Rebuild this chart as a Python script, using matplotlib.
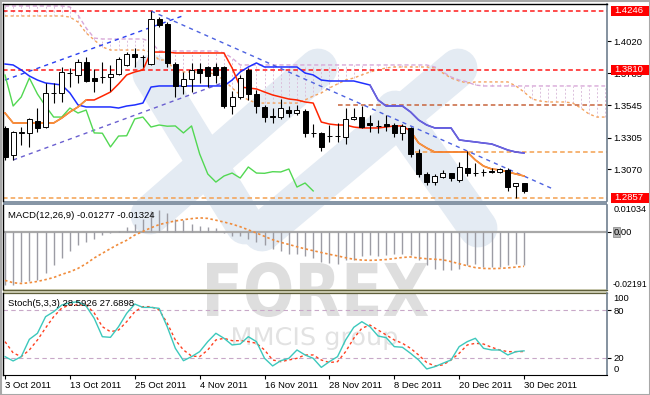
import matplotlib
matplotlib.use('Agg')
import matplotlib.pyplot as plt
import numpy as np
from matplotlib.patches import Rectangle, PathPatch
from matplotlib.textpath import TextPath
from matplotlib.font_manager import FontProperties
from matplotlib.transforms import Affine2D, blended_transform_factory

plt.rcParams['font.family'] = ['Liberation Sans', 'DejaVu Sans']

# ---- daily EURUSD candles, 3 Oct 2011 .. 30 Dec 2011 ----
opens = [1.3377, 1.3176, 1.3340, 1.3340, 1.3429, 1.3384, 1.3637, 1.3637, 1.3785, 1.3770,
         1.3867, 1.3748, 1.3756, 1.3756, 1.3778, 1.3845, 1.3927, 1.3904, 1.3852, 1.4187,
         1.4149, 1.3852, 1.3689, 1.3741, 1.3815, 1.3830, 1.3830, 1.3830, 1.3540, 1.3607,
         1.3808, 1.3629, 1.3533, 1.3466, 1.3458, 1.3510, 1.3488, 1.3503, 1.3340, 1.3340,
         1.3320, 1.3317, 1.3310, 1.3444, 1.3458, 1.3414, 1.3392, 1.3406, 1.3399, 1.3340,
         1.3377, 1.3191, 1.3035, 1.2975, 1.3013, 1.3042, 1.2990, 1.3079, 1.3042, 1.3050,
         1.3057, 1.3050, 1.3065, 1.2946, 1.2968]
highs = [1.3392, 1.3354, 1.3384, 1.3451, 1.3525, 1.3711, 1.3711, 1.3830, 1.3823, 1.3889,
         1.3904, 1.3815, 1.3867, 1.3845, 1.3904, 1.3941, 1.3971, 1.3919, 1.4246, 1.4201,
         1.4164, 1.3867, 1.3793, 1.3860, 1.3860, 1.3837, 1.3860, 1.3837, 1.3652, 1.3770,
         1.3823, 1.3659, 1.3548, 1.3525, 1.3592, 1.3540, 1.3548, 1.3518, 1.3406, 1.3347,
         1.3399, 1.3414, 1.3525, 1.3525, 1.3540, 1.3473, 1.3436, 1.3473, 1.3414, 1.3406,
         1.3384, 1.3221, 1.3050, 1.3035, 1.3065, 1.3042, 1.3124, 1.3206, 1.3117, 1.3072,
         1.3079, 1.3079, 1.3079, 1.2968, 1.2968]
lows = [1.3139, 1.3139, 1.3250, 1.3236, 1.3347, 1.3377, 1.3562, 1.3570, 1.3681, 1.3711,
        1.3718, 1.3644, 1.3711, 1.3652, 1.3770, 1.3837, 1.3830, 1.3830, 1.3845, 1.4127,
        1.3830, 1.3607, 1.3629, 1.3644, 1.3711, 1.3681, 1.3711, 1.3525, 1.3481, 1.3592,
        1.3585, 1.3488, 1.3421, 1.3414, 1.3444, 1.3458, 1.3473, 1.3310, 1.3310, 1.3206,
        1.3273, 1.3273, 1.3258, 1.3436, 1.3377, 1.3347, 1.3340, 1.3354, 1.3310, 1.3288,
        1.3161, 1.3013, 1.2953, 1.2953, 1.3005, 1.2983, 1.2975, 1.3020, 1.3020, 1.3020,
        1.3042, 1.3042, 1.2909, 1.2857, 1.2894]
closes = [1.3161, 1.3347, 1.3347, 1.3444, 1.3377, 1.3637, 1.3640, 1.3793, 1.3788, 1.3867,
          1.3726, 1.3726, 1.3753, 1.3778, 1.3889, 1.3927, 1.3904, 1.3906, 1.4187, 1.4142,
          1.3860, 1.3689, 1.3741, 1.3808, 1.3785, 1.3763, 1.3770, 1.3540, 1.3607, 1.3748,
          1.3629, 1.3540, 1.3458, 1.3458, 1.3525, 1.3488, 1.3510, 1.3340, 1.3338, 1.3236,
          1.3317, 1.3319, 1.3444, 1.3458, 1.3384, 1.3399, 1.3390, 1.3392, 1.3340, 1.3392,
          1.3184, 1.3035, 1.2975, 1.3020, 1.3042, 1.3005, 1.3087, 1.3042, 1.3040, 1.3052,
          1.3050, 1.3072, 1.2938, 1.2968, 1.2909]

# Ichimoku lines
tenkan = [1.3488, 1.3414, 1.3414, 1.3414, 1.3414, 1.3414, 1.3414, 1.3451, 1.3496, 1.3533,
          1.3585, 1.3585, 1.3614, 1.3644, 1.3704, 1.3771, 1.3793, 1.3808, 1.3941, 1.3941,
          1.3941, 1.3934, 1.3934, 1.3934, 1.3934, 1.3934, 1.3934, 1.3934, 1.3823, 1.3681,
          1.3674, 1.3667, 1.3644, 1.3622, 1.3607, 1.3592, 1.3585, 1.3570, 1.3562, 1.3421,
          1.3406, 1.3399, 1.3399, 1.3384, 1.3377, 1.3377, 1.3377, 1.3384, 1.3392, 1.3392,
          1.3354, 1.3265, 1.3228, 1.3198, 1.3198, 1.3198, 1.3198, 1.3198, 1.3139, 1.3094,
          1.3072, 1.3065, 1.3050, 1.3035, 1.3020]
kijun = [1.3852, 1.3845, 1.3808, 1.3763, 1.3733, 1.3711, 1.3704, 1.3696, 1.3637, 1.3548,
         1.3533, 1.3533, 1.3533, 1.3533, 1.3525, 1.3540, 1.3548, 1.3562, 1.3681, 1.3689,
         1.3689, 1.3689, 1.3689, 1.3689, 1.3689, 1.3689, 1.3689, 1.3689, 1.3733, 1.3793,
         1.3830, 1.3860, 1.3830, 1.3830, 1.3830, 1.3830, 1.3830, 1.3785, 1.3771, 1.3733,
         1.3726, 1.3726, 1.3726, 1.3726, 1.3711, 1.3696, 1.3585, 1.3540, 1.3540, 1.3540,
         1.3496, 1.3436, 1.3399, 1.3377, 1.3377, 1.3377, 1.3288, 1.3280, 1.3273, 1.3265,
         1.3258, 1.3236, 1.3213, 1.3198, 1.3191]
span_a = [1.4209, 1.4209, 1.4209, 1.4209, 1.4209, 1.4209, 1.4209, 1.4209, 1.4201, 1.4164,
          1.4083, 1.4031, 1.3979, 1.3956, 1.3956, 1.3956, 1.3956, 1.3956, 1.3941, 1.3882,
          1.3882, 1.3793, 1.3793, 1.3793, 1.3793, 1.3793, 1.3771, 1.3733, 1.3674, 1.3622,
          1.3585, 1.3562, 1.3562, 1.3562, 1.3562, 1.3562, 1.3562, 1.3585, 1.3614, 1.3637,
          1.3674, 1.3704, 1.3733, 1.3748, 1.3771, 1.3793, 1.3808, 1.3823, 1.3830, 1.3830,
          1.3830, 1.3830, 1.3830, 1.3823, 1.3785, 1.3748, 1.3726, 1.3711, 1.3719, 1.3719,
          1.3719, 1.3719, 1.3719, 1.3689, 1.3644, 1.3592, 1.3577, 1.3570, 1.3570, 1.3570,
          1.3562, 1.3525, 1.3481, 1.3458, 1.3458]
span_b = [1.4283, 1.4283, 1.4283, 1.4283, 1.4283, 1.4283, 1.4283, 1.4283, 1.4276, 1.4216,
          1.4120, 1.4045, 1.4038, 1.4038, 1.4038, 1.4038, 1.4038, 1.4038, 1.4016, 1.3949,
          1.3949, 1.3949, 1.3949, 1.3949, 1.3949, 1.3949, 1.3949, 1.3934, 1.3897, 1.3845,
          1.3845, 1.3845, 1.3845, 1.3845, 1.3845, 1.3845, 1.3845, 1.3845, 1.3845, 1.3845,
          1.3845, 1.3845, 1.3845, 1.3845, 1.3845, 1.3845, 1.3845, 1.3845, 1.3845, 1.3845,
          1.3845, 1.3845, 1.3845, 1.3830, 1.3793, 1.3756, 1.3733, 1.3719, 1.3696, 1.3689,
          1.3689, 1.3689, 1.3689, 1.3689, 1.3689, 1.3689, 1.3689, 1.3689, 1.3689, 1.3689,
          1.3689, 1.3689, 1.3689, 1.3689, 1.3689]

# MACD(12,26,9): main as histogram, signal dotted
macd = [-0.0202, -0.0202, -0.0192, -0.0189, -0.0186, -0.0156, -0.0128, -0.0102, -0.0074, -0.0051,
        -0.0038, -0.0026, -0.0013, -0.0006, 0.0004, 0.0019, 0.0032, 0.0051, 0.0079, 0.0083,
        0.0074, 0.0051, 0.0045, 0.0032, 0.0023, 0.0019, 0.0017, -0.0003, -0.0015, -0.0015,
        -0.0026, -0.0038, -0.0051, -0.0067, -0.0073, -0.0083, -0.0083, -0.0092, -0.0102, -0.0115,
        -0.0118, -0.0122, -0.0109, -0.0109, -0.0092, -0.0090, -0.0092, -0.0090, -0.0083, -0.0083,
        -0.0090, -0.0109, -0.0128, -0.0141, -0.0147, -0.0147, -0.0141, -0.0128, -0.0125, -0.0134,
        -0.0134, -0.0134, -0.0128, -0.0125, -0.0128]
signal = [-0.0186, -0.0195, -0.0198, -0.0195, -0.0190, -0.0183, -0.0175, -0.0163, -0.0153, -0.0140,
          -0.0122, -0.0100, -0.0082, -0.0064, -0.0047, -0.0032, -0.0012, 0.0002, 0.0016, 0.0028,
          0.0036, 0.0042, 0.0047, 0.0051, 0.0054, 0.0052, 0.0045, 0.0038, 0.0030, 0.0020,
          0.0008, -0.0004, -0.0017, -0.0030, -0.0040, -0.0048, -0.0057, -0.0065, -0.0072, -0.0079,
          -0.0086, -0.0092, -0.0099, -0.0105, -0.0108, -0.0109, -0.0108, -0.0106, -0.0102, -0.0098,
          -0.0096, -0.0100, -0.0103, -0.0105, -0.0107, -0.0114, -0.0122, -0.0130, -0.0137, -0.0140,
          -0.0141, -0.0140, -0.0138, -0.0135, -0.0132]

# Stochastic(5,3,3)
stoch_k = [21.3, 15.9, 21.3, 43.1, 50.7, 71.6, 77.9, 86.3, 89.2, 90.4,
           85.0, 69.5, 46.4, 45.6, 59.0, 75.8, 87.5, 83.3, 83.3, 82.1,
           59.0, 31.8, 16.2, 21.3, 27.6, 40.2, 50.7, 44.4, 36.0, 37.2,
           46.4, 40.2, 19.2, 9.6, 16.2, 19.2, 29.7, 23.4, 19.2, 7.8,
           15.0, 21.3, 42.3, 58.2, 65.3, 59.0, 47.3, 45.2, 33.9, 33.1,
           25.5, 17.1, 5.8, 8.7, 13.0, 17.1, 33.9, 40.2, 44.4, 31.8,
           29.7, 29.7, 23.4, 27.6, 28.6]
stoch_d = [40.2, 26.0, 21.3, 29.7, 42.3, 57.4, 71.6, 82.5, 86.3, 86.3,
           86.3, 76.2, 59.0, 52.7, 54.8, 65.3, 77.9, 84.2, 84.2, 80.0,
           63.6, 42.3, 29.7, 22.1, 21.3, 29.7, 42.3, 44.4, 41.4, 41.4,
           40.2, 38.1, 29.7, 17.1, 15.0, 17.1, 19.2, 23.4, 23.4, 17.1,
           13.9, 15.0, 27.6, 44.4, 57.0, 61.1, 54.8, 48.6, 42.3, 38.1,
           31.8, 23.4, 13.9, 9.6, 10.9, 17.1, 25.5, 36.0, 38.1, 37.2,
           33.1, 29.7, 27.6, 27.6, 27.7]

date_labels = ['3 Oct 2011', '13 Oct 2011', '25 Oct 2011', '4 Nov 2011', '16 Nov 2011',
               '28 Nov 2011', '8 Dec 2011', '20 Dec 2011', '30 Dec 2011']
date_bars = [0, 8, 16, 24, 32, 40, 48, 56, 64]

price_ticks = [1.4020, 1.3785, 1.3545, 1.3305, 1.3070]
boxed_prices = [1.4246, 1.3810, 1.2857]
levels = [1.4246, 1.3810, 1.3545, 1.3198, 1.2857]
level_start = [None, None, 41, 50.5, None]
level_colors = ['#ff1a1a', '#ff1a1a', '#c8643c', '#f4a050', '#f4a050']

# trend lines: (bar, price) end points
trend_x = [(0, 22.2), (18, 67.6), (1, 27.1)]
trend_y = [(1.3733, 1.4216), (1.4246, 1.2923), (1.3139, 1.3718)]
trend_colors = ['#2a3ff0', '#4d62e0', '#6a5fd0']

W, H = 650, 395
fig = plt.figure(figsize=(6.5, 3.95), dpi=100)
fig.patch.set_facecolor('white')


def rect(x0, y0, x1, y1):
    return [x0 / W, 1 - y1 / H, (x1 - x0) / W, (y1 - y0) / H]


# background layer in pixel units (watermark, separators)
bg = fig.add_axes([0, 0, 1, 1])
bg.set_zorder(-1)
bg.set_xlim(0, W)
bg.set_ylim(H, 0)
bg.axis('off')

wm_blue = '#e4ebf3'
for (xa, ya), (xb, yb) in [((150, 215), (318, 68)), ((262, 232), (458, 68)),
                           ((152, 74), (245, 225)), ((395, 110), (478, 228))]:
    bg.plot([xa, xb], [ya, yb], color=wm_blue, lw=28, solid_capstyle='round', zorder=1)


def wordmark(text, box, weight, color):
    tp = TextPath((0, 0), text, size=100, prop=FontProperties(family='DejaVu Sans', weight=weight))
    ext = tp.get_extents()
    x0, y0, x1, y1 = box
    tr = (Affine2D().translate(-ext.x0, -ext.y0)
          .scale((x1 - x0) / ext.width, -(y1 - y0) / ext.height).translate(x0, y1))
    bg.add_patch(PathPatch(tr.transform_path(tp), facecolor=color, edgecolor='none', zorder=2))


wordmark('FOREX', (207, 262, 428, 317), 'bold', '#dedede')
wordmark('MMCIS group', (233, 327, 397, 350), 'normal', '#e2e2e2')

bg.add_patch(Rectangle((3, 201), 604, 4, facecolor='#8796a6', edgecolor='none', zorder=3))
bg.add_patch(Rectangle((3, 289), 604, 4, facecolor='#d4d4bc', edgecolor='none', zorder=3))
bg.plot([3, 607], [289.5, 289.5], color='#5f5f3a', lw=0.9, zorder=4)
bg.plot([3, 607], [292.5, 292.5], color='#5f5f3a', lw=0.9, zorder=4)
bg.add_patch(Rectangle((0.5, 0.5), W - 1, H - 1, fill=False, edgecolor='#a8a8a8', lw=1.5, zorder=5))

x = np.arange(len(closes))
xc = np.arange(len(span_a))
XL = (-0.25, 74.23)

# ---------------- main price panel ----------------
ax = fig.add_axes(rect(3, 4, 607, 201))
ax.set_facecolor('none')
ax.set_xlim(*XL)
ax.set_ylim(1.28343, 1.42980)

sa, sb = np.array(span_a), np.array(span_b)
ax.vlines(xc, np.minimum(sa, sb), np.maximum(sa, sb), colors='#dcc0dc', linestyles=(0, (2, 2)), lw=0.7, zorder=1)
ax.plot(xc, span_a, color='#f4a460', ls=(0, (2, 2)), lw=1.0, zorder=2)
ax.plot(xc, span_b, color='#d8a8d8', ls=(0, (3, 2)), lw=1.0, zorder=2)

for lv, st, col in zip(levels, level_start, level_colors):
    ax.hlines(lv, XL[0] if st is None else st, XL[1], colors=col, linestyles=(0, (3, 2)), lw=1.1, zorder=2)

for tx, ty, col in zip(trend_x, trend_y, trend_colors):
    ax.plot(tx, ty, color=col, ls=(0, (3, 3)), lw=1.0, zorder=3)

ax.plot(x[:len(closes) - 26], closes[26:], color='#52d852', lw=1.0, zorder=3)  # chikou
ax.plot(x, kijun, color='#1f2fff', lw=1.1, zorder=3)
ax.plot(x[45:], kijun[45:], color='#6f63d6', lw=1.1, zorder=3)
ax.plot(x, tenkan, color='#ff2400', lw=1.1, zorder=3)
ax.plot(x[:11], tenkan[:11], color='#f39a3c', lw=1.1, zorder=3)
ax.plot(x[50:], tenkan[50:], color='#f39a3c', lw=1.1, zorder=3)

o, h, l, c = map(np.array, (opens, highs, lows, closes))
up = c >= o
ax.vlines(x, l, h, colors='black', lw=0.8, zorder=4)
ax.bar(x, np.abs(c - o), bottom=np.minimum(o, c), width=0.62,
       color=np.where(up, 'white', 'black'), edgecolor='black', lw=0.7, zorder=5)

ax.yaxis.tick_right()
ax.set_yticks(price_ticks)
ax.set_yticklabels([f'{p:.4f}' for p in price_ticks])
ax.set_xticks([])

# ---------------- MACD panel ----------------
axm = fig.add_axes(rect(3, 205, 607, 289))
axm.set_facecolor('none')
axm.set_xlim(*XL)
axm.set_ylim(-0.02191, 0.01034)
axm.axhline(0, color='#a8a8a8', lw=1.6, zorder=1)
axm.vlines(x, 0, macd, colors='#9c9ca4', lw=1.0, zorder=2)
axm.plot(x, signal, color='#f08c3c', ls=(0, (1.5, 1.5)), lw=1.2, zorder=3)
axm.yaxis.tick_right()
axm.set_yticks([0.0])
axm.set_yticklabels(['0.00'])
axm.set_xticks([])
bt = blended_transform_factory(axm.transAxes, axm.transData)
axm.text(1.011, 0.01034, '0.01034', transform=bt, ha='left', va='top', fontsize=6.6)
axm.text(1.009, -0.02191, '-0.02191', transform=bt, ha='left', va='bottom', fontsize=6.3)

# ---------------- Stochastic panel ----------------
axs = fig.add_axes(rect(3, 293, 607, 375))
axs.set_facecolor('none')
axs.set_xlim(*XL)
axs.set_ylim(-1.8, 101.4)
for lv in (80, 20):
    axs.axhline(lv, color='#c8a8c8', ls=(0, (4, 3)), lw=0.8, zorder=1)
axs.plot(x, stoch_k, color='#3cc8bc', lw=1.0, zorder=3)
axs.plot(x, stoch_d, color='#ff4020', ls=(0, (2, 2)), lw=1.0, zorder=2)
axs.yaxis.tick_right()
axs.set_yticks([80, 20])
axs.set_yticklabels(['80', '20'])
bs = blended_transform_factory(axs.transAxes, axs.transData)
axs.text(1.011, 100, '100', transform=bs, ha='left', va='top', fontsize=6.8)
axs.text(1.011, 0, '0', transform=bs, ha='left', va='bottom', fontsize=6.8)
axs.set_xticks(date_bars)
axs.set_xticklabels(date_labels, ha='left')

for a in (ax, axm, axs):
    a.tick_params(axis='y', length=3, width=0.8, labelsize=6.8, pad=1.5, colors='black')
    a.tick_params(axis='x', length=3, width=0.8, labelsize=6.8, pad=1.5)
    for s in ('left', 'top'):
        a.spines[s].set_color('black')
        a.spines[s].set_linewidth(1.0)
    a.spines['right'].set_color('#6f7f8f')
    a.spines['right'].set_linewidth(1.2)
    a.spines['bottom'].set_visible(False)
axs.spines['bottom'].set_visible(True)
axs.spines['bottom'].set_color('black')
axm.spines['top'].set_visible(False)
axs.spines['top'].set_visible(False)

# ---------------- overlay: boxed price labels, panel captions ----------------
ov = fig.add_axes([0, 0, 1, 1], zorder=10)
ov.set_xlim(0, W)
ov.set_ylim(H, 0)
ov.axis('off')
ov.patch.set_alpha(0)


def px_y(axis, v):
    return H - axis.transData.transform((0, v))[1]


for p in boxed_prices:
    yp = px_y(ax, p)
    ov.add_patch(Rectangle((611, yp - 5), 38, 10, facecolor='#ff0000', edgecolor='none'))
    ov.text(614, yp, f'{p:.4f}', color='white', fontsize=6.8, ha='left', va='center')

y0 = px_y(axm, 0.0)
bg.add_patch(Rectangle((613, y0 - 5), 6.5, 10, facecolor='#b4b4b4', edgecolor='#808080', lw=0.5, zorder=3))

ov.text(8, 215, 'MACD(12,26,9) -0.01277 -0.01324', fontsize=6.8, ha='left', va='center')
ov.text(8, 303, 'Stoch(5,3,3) 28.5926 27.6898', fontsize=6.8, ha='left', va='center')

fig.savefig('out.png', dpi=100)
